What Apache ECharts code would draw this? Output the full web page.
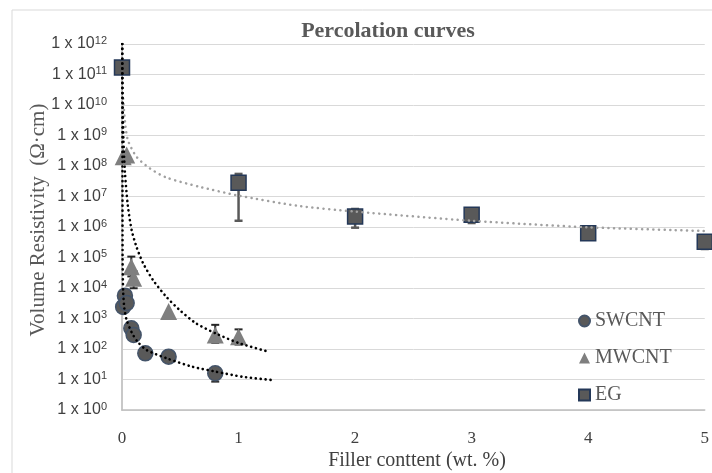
<!DOCTYPE html>
<html>
<head>
<meta charset="utf-8">
<script src="https://cdn.jsdelivr.net/npm/echarts@6/dist/echarts.min.js"></script>
<style>
  html, body { margin: 0; padding: 0; background: #ffffff; }
  #chart { width: 712px; height: 473px; }
</style>
</head>
<body>
<div id="chart"></div>
<script>
// Filler loadings (wt. %) and measured volume resistivity (Ω·cm)
const swcntX    = [0.01, 0.025, 0.04, 0.08, 0.1, 0.2, 0.4, 0.8];
const swcntRho  = [2.4e3, 5.6e3, 3.2e3, 4.8e2, 2.9e2, 72, 56, 16];
const swcntLow  = [null, null, null, null, null, null, null, 8.5];
const swcntHigh = [null, null, null, null, null, null, null, 24];

const mwcntX    = [0.01, 0.04, 0.08, 0.1, 0.4, 0.8, 1.0];
const mwcntRho  = [2.0e8, 2.3e8, 5.0e4, 2.1e4, 1.7e3, 2.9e2, 2.5e2];
const mwcntLow  = [null, null, 2.4e4, 9.8e3, null, 1.6e2, 1.4e2];
const mwcntHigh = [null, null, 1.07e5, 3.5e4, null, 6.2e2, 4.4e2];

const egX    = [0, 1, 2, 3, 4, 5];
const egRho  = [1.7e11, 2.8e7, 2.2e6, 2.5e6, 6.2e5, 3.3e5];
const egLow  = [null, 1.6e6, 9.5e5, 1.35e6, null, 1.9e5];
const egHigh = [null, 5.5e7, 3.9e6, 3.5e6, null, 4.5e5];

// Power-law trend curves (x, resistivity)
const swcntFitX = [0.003, 0.004, 0.005, 0.01, 0.02, 0.04, 0.083, 0.13, 0.21, 0.381, 0.607, 0.807, 1.033, 1.303];
const swcntFitY = [1e12, 1e8, 1e5, 7.9e3, 2.2e3, 8.9e2, 3.5e2, 1.8e2, 93, 50, 26, 18, 12.3, 9.5];

const mwcntFitX = [0.0015, 0.003, 0.006, 0.012, 0.025, 0.05, 0.083, 0.125, 0.181, 0.267, 0.381, 0.494, 0.636, 0.807, 1.005, 1.26];
const mwcntFitY = [1e12, 1e11, 8.9e9, 7.9e8, 6.3e7, 5.0e6, 7.9e5, 2.2e5, 6.5e4, 1.8e4, 5.1e3, 1.9e3, 6.9e2, 3.2e2, 1.55e2, 81];

const egFitX = [0.01, 0.026, 0.05, 0.125, 0.24, 0.38, 0.66, 1.0, 1.5, 2, 3, 4, 5];
const egFitY = [1.6e10, 2.8e9, 7.1e8, 2.0e8, 8.3e7, 4.2e7, 2.1e7, 1.07e7, 5.0e6, 3.2e6, 1.6e6, 9.8e5, 7.4e5];

const xTicks = [0, 1, 2, 3, 4, 5];
const legendNames = ['SWCNT', 'MWCNT', 'EG'];

const pairs = (xs, ys) => xs.map((x, i) => [x, ys[i]]);
const errData = (xs, lo, hi) => xs.map((x, i) => [x, lo[i], hi[i]]).filter(d => d[1] != null);

function errorBars(name, data, color, width, capHalf) {
  return {
    name: name,
    type: 'custom',
    z: 2,
    silent: true,
    encode: { x: 0, y: [1, 2] },
    data: data,
    renderItem: function (params, api) {
      const x = api.value(0);
      const pLo = api.coord([x, api.value(1)]);
      const pHi = api.coord([x, api.value(2)]);
      const st = { stroke: color, lineWidth: width };
      return {
        type: 'group',
        children: [
          { type: 'line', shape: { x1: pLo[0], y1: pLo[1], x2: pHi[0], y2: pHi[1] }, style: st },
          { type: 'line', shape: { x1: pLo[0] - capHalf, y1: pLo[1], x2: pLo[0] + capHalf, y2: pLo[1] }, style: st },
          { type: 'line', shape: { x1: pHi[0] - capHalf, y1: pHi[1], x2: pHi[0] + capHalf, y2: pHi[1] }, style: st }
        ]
      };
    }
  };
}

function trend(name, xs, ys, color, width, gap) {
  return {
    name: name,
    type: 'line',
    z: 4,
    silent: true,
    symbol: 'none',
    smooth: 0.25,
    data: pairs(xs, ys),
    lineStyle: { color: color, width: width, type: [0.1, gap], cap: 'round' }
  };
}

const chart = echarts.init(document.getElementById('chart'), null, { renderer: 'canvas' });

chart.setOption({
  animation: false,
  backgroundColor: '#ffffff',
  grid: { left: 122, right: 3, top: 44, bottom: 63, containLabel: false },
  legend: {
    data: legendNames,
    orient: 'vertical',
    left: 573,
    top: 306,
    itemWidth: 11,
    itemHeight: 11,
    itemGap: 17,
    selectedMode: false,
    textStyle: { fontFamily: 'Liberation Serif', fontSize: 20, color: '#595959', lineHeight: 20 }
  },
  xAxis: {
    type: 'value',
    min: xTicks[0],
    max: xTicks[xTicks.length - 1],
    interval: 1,
    axisLine: { show: true, lineStyle: { color: '#bfbfbf', width: 1.5 } },
    axisTick: { show: false },
    splitLine: { show: false },
    axisLabel: { margin: 20, color: '#404040', fontFamily: 'Liberation Serif', fontSize: 17 }
  },
  yAxis: {
    type: 'log',
    logBase: 10,
    min: 1,
    max: 1e12,
    interval: 1,
    axisLine: { show: true, lineStyle: { color: '#c8c8c8', width: 2 } },
    axisTick: { show: false },
    splitLine: { show: true, lineStyle: { color: '#d9d9d9', width: 1 } },
    axisLabel: {
      margin: 15,
      color: '#404040',
      fontFamily: 'Liberation Sans',
      fontSize: 16,
      lineHeight: 18,
      formatter: function (v) {
        return '1 x 10{sup|' + Math.round(Math.log10(v)) + '}';
      },
      rich: {
        sup: { fontFamily: 'Liberation Sans', fontSize: 11, color: '#404040', verticalAlign: 'top', lineHeight: 11 }
      }
    }
  },
  graphic: [
    {
      type: 'rect',
      silent: true,
      z: -10,
      shape: { x: 12, y: 10, width: 760, height: 520 },
      style: { fill: 'none', stroke: '#d9d9d9', lineWidth: 1 }
    },
    {
      type: 'text',
      x: 388, y: 31,
      style: { text: 'Percolation curves', font: 'bold 22px "Liberation Serif"', fill: '#595959', align: 'center', verticalAlign: 'middle' }
    },
    {
      type: 'text',
      x: 38, y: 220,
      rotation: Math.PI / 2,
      style: { text: 'Volume Resistivity  (Ω·cm)', font: '21px "Liberation Serif"', fill: '#595959', align: 'center', verticalAlign: 'middle' }
    },
    {
      type: 'text',
      x: 417, y: 461,
      style: { text: 'Filler conttent (wt. %)', font: '20px "Liberation Serif"', fill: '#404040', align: 'center', verticalAlign: 'middle' }
    }
  ],
  series: [
    errorBars('SWCNT error', errData(swcntX, swcntLow, swcntHigh), '#333333', 2, 4),
    errorBars('MWCNT error', errData(mwcntX, mwcntLow, mwcntHigh), '#262626', 2, 4),
    errorBars('EG error', errData(egX, egLow, egHigh), '#595959', 2.5, 4),
    {
      name: 'SWCNT', type: 'scatter', z: 3,
      symbol: 'circle', symbolSize: 15,
      data: pairs(swcntX, swcntRho),
      itemStyle: { color: '#595959', borderColor: '#44546a', borderWidth: 1.5, opacity: 1 }
    },
    {
      name: 'MWCNT', type: 'scatter', z: 3,
      symbol: 'triangle', symbolSize: 17,
      data: pairs(mwcntX, mwcntRho),
      itemStyle: { color: '#7f7f7f', opacity: 1 }
    },
    {
      name: 'EG', type: 'scatter', z: 3,
      symbol: 'rect', symbolSize: 15,
      data: pairs(egX, egRho),
      itemStyle: { color: '#595959', borderColor: '#243858', borderWidth: 1.5, opacity: 1 }
    },
    trend('EG trend', egFitX, egFitY, '#a0a0a0', 2.5, 5.5),
    trend('MWCNT trend', mwcntFitX, mwcntFitY, '#000000', 2.6, 4.8),
    trend('SWCNT trend', swcntFitX, swcntFitY, '#000000', 2.6, 4.8)
  ]
});
</script>
</body>
</html>
